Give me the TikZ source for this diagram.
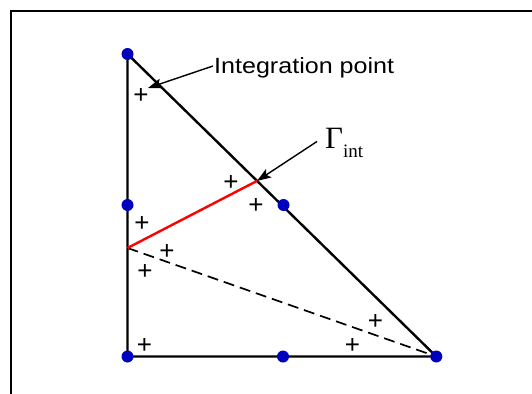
\documentclass[tikz,border=0pt]{standalone}
\usepackage{fontspec}
\setmainfont{Liberation Sans}
\newfontfamily\timesf{Liberation Serif}
\usetikzlibrary{arrows.meta,calc}
\definecolor{dotblue}{RGB}{0,0,190}
\begin{document}
\begin{tikzpicture}[x=1pt,y=-1pt,
  edge/.style={line width=2.4pt, black},
  vdot/.style={circle, fill=dotblue, draw=none, minimum size=12pt, inner sep=0pt},
  ipt/.style={anchor=base, inner sep=0pt, font=\fontsize{26}{26}\selectfont},
  callout/.style={line width=1.4pt, -{Stealth[length=14pt,width=10pt,inset=3pt]}},
  lab/.style={anchor=base west, inner sep=0pt},
  ]
\useasboundingbox (0,0) rectangle (532,393);
\draw[line width=2.6pt] (11,400) -- (11,11) -- (540,11);

\coordinate (A) at (127.5,54);
\coordinate (B) at (127.5,356.5);
\coordinate (C) at (436.3,356.5);
\coordinate (L) at (127.5,248);
\coordinate (I) at ($(A)!0.4195!(C)$);

\draw[edge, line join=round] (A) -- (B) -- (C) -- cycle;
\draw[black, line width=1.7pt, dash pattern=on 11pt off 6pt] (L) -- (C);
\draw[red, line width=2.4pt] (L) -- (I);

\node[vdot] (vA) at (A) {};
\node[vdot] (vB) at (B) {};
\node[vdot] (vC) at (C) {};
\node[vdot] (mL) at (127.5,205) {};
\node[vdot] (mH) at (283.5,205) {};
\node[vdot] (mB) at (283,356.5) {};

\node[ipt] (p1) at (141,103) {+};
\node[ipt] (p2) at (231,190) {+};
\node[ipt] (p3) at (256,213) {+};
\node[ipt] (p4) at (142,231) {+};
\node[ipt] (p5) at (167,259) {+};
\node[ipt] (p6) at (145,279) {+};
\node[ipt] (p7) at (375.5,329) {+};
\node[ipt] (p8) at (352.5,353) {+};
\node[ipt] (p9) at (144.5,353) {+};

\node[lab, font=\fontsize{22}{22}\selectfont] (lab1) at (214,74) {\scalebox{1.14}[1]{Integration point}};
\node[lab, font=\timesf\fontsize{31}{31}\selectfont] (lab2) at (325,148) {Γ\raisebox{-9pt}{\fontsize{19}{19}\selectfont int}};

\coordinate (a1s) at (213,66);
\coordinate (a1t) at (148,88);
\coordinate (a2s) at (317,141.5);
\draw[callout] (a1s) -- (a1t);
\draw[callout] (a2s) -- (I);
\end{tikzpicture}
\end{document}
